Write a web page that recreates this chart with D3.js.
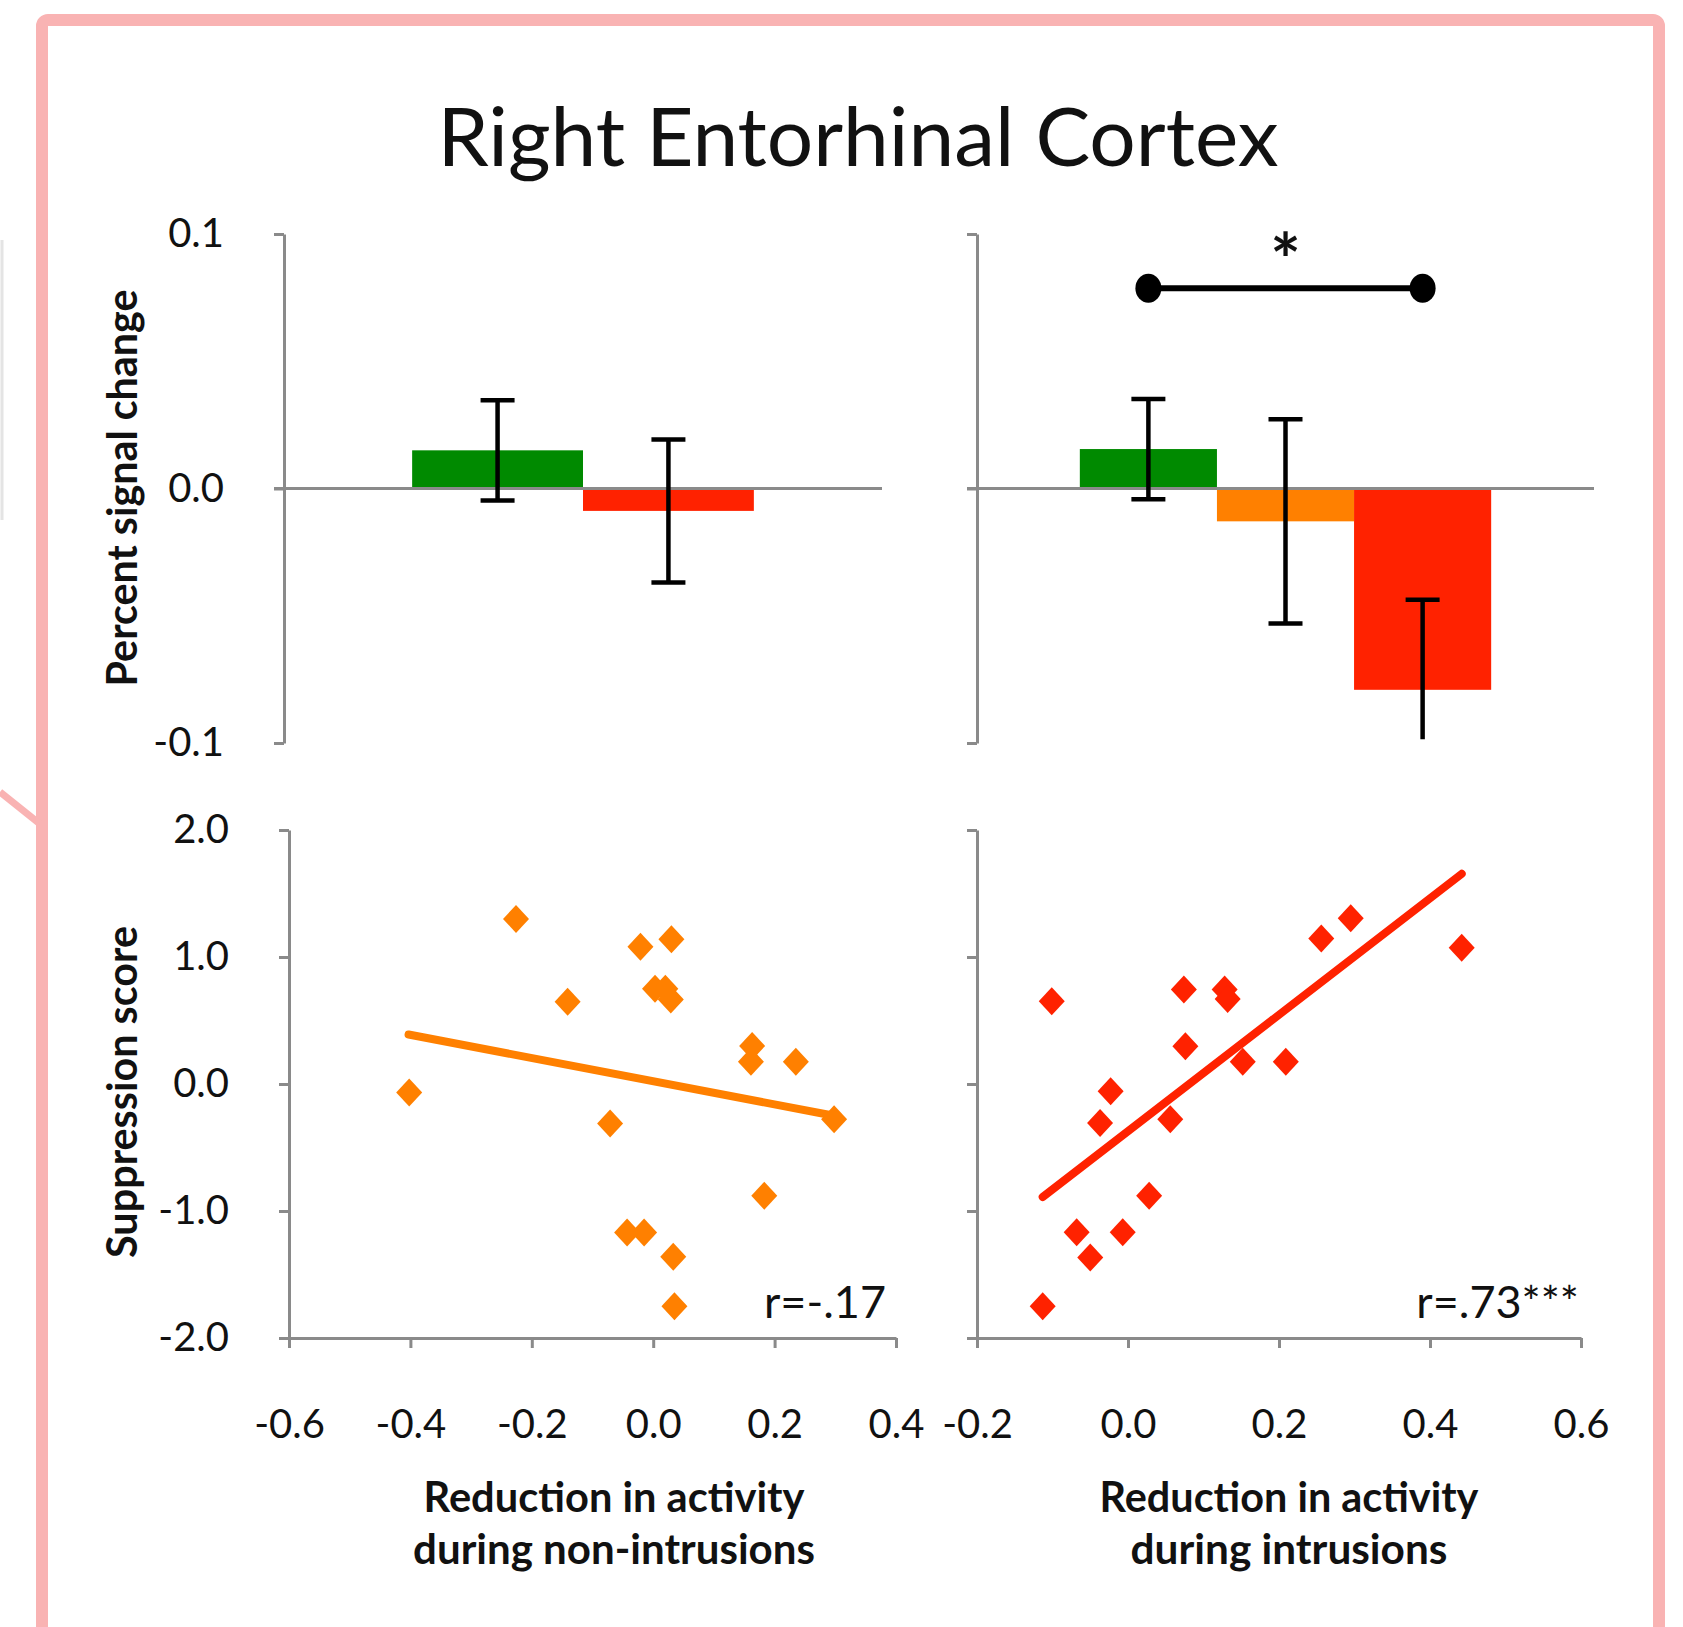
<!DOCTYPE html>
<html>
<head>
<meta charset="utf-8">
<script src="https://cdn.jsdelivr.net/npm/d3@7"></script>
<style>
  html, body { margin: 0; padding: 0; background: #fff; }
  svg { display: block; }
  text { font-family: Lato, "Open Sans", sans-serif; fill: #111; }
</style>
</head>
<body>
<svg id="chart" width="1683" height="1627"></svg>
<script>
// ---------------- DATA ----------------
const chartTitle = "Right Entorhinal Cortex";

// Top-left bar chart (non-intrusion analysis)
const leftBarCategories = ["Think", "No-Think"];
const leftBarMeans = [0.0150, -0.0088];
const leftBarErrors = [0.0197, 0.0281];
const leftBarColors = ["#008A00", "#FF2200"];

// Top-right bar chart (intrusion analysis)
const rightBarCategories = ["Think", "Non-intrusions", "Intrusions"];
const rightBarMeans = [0.0155, -0.0129, -0.0791];
const rightBarErrors = [0.0197, 0.0401, 0.0354];
const rightBarColors = ["#008A00", "#FF8000", "#FF2200"];

const barYTicks = [-0.1, 0.0, 0.1];
const sigBracketValue = 0.0787;
const sigStarValue = 0.0957;
const sigLabel = "*";

// Bottom-left scatter (non-intrusions)
const leftScatterX = [-0.402, -0.226, -0.141, -0.071, -0.021, 0.030, 0.003, 0.020, 0.029, 0.163, 0.161, 0.235, 0.298, 0.183, -0.043, -0.015, 0.033, 0.035];
const leftScatterY = [-0.067, 1.30, 0.648, -0.312, 1.08, 1.14, 0.75, 0.75, 0.666, 0.30, 0.175, 0.175, -0.277, -0.88, -1.17, -1.17, -1.36, -1.75];
const leftTrendX = [-0.403, 0.298];
const leftTrendY = [0.39, -0.25];
const leftR = "r=-.17";

// Bottom-right scatter (intrusions)
const rightScatterX = [-0.101, -0.113, -0.068, -0.050, -0.037, -0.023, -0.007, 0.028, 0.056, 0.074, 0.076, 0.128, 0.132, 0.152, 0.209, 0.256, 0.295, 0.442];
const rightScatterY = [0.651, -1.75, -1.168, -1.366, -0.307, -0.058, -1.168, -0.88, -0.277, 0.745, 0.298, 0.745, 0.67, 0.175, 0.175, 1.145, 1.305, 1.072];
const rightTrendX = [-0.113, 0.442];
const rightTrendY = [-0.89, 1.655];
const rightR = "r=.73***";

const scatterYTicks = [-2, -1, 0, 1, 2];
const leftXTicks = [-0.6, -0.4, -0.2, 0.0, 0.2, 0.4];
const rightXTicks = [-0.2, 0.0, 0.2, 0.4, 0.6];

const yTitleTop = "Percent signal change";
const yTitleBottom = "Suppression score";
const xTitleLeft = ["Reduction in activity", "during non-intrusions"];
const xTitleRight = ["Reduction in activity", "during intrusions"];

// ---------------- DRAWING ----------------
const svg = d3.select("#chart");
const AXIS = "#8a8a8a";
const fmt = d3.formatLocale({decimal: ".", thousands: ",", grouping: [3], currency: ["", ""], minus: "-"}).format(".1f");

// frame
svg.append("rect").attr("x", 42).attr("y", 20).attr("width", 1617).attr("height", 1700)
  .attr("rx", 6).attr("fill", "none").attr("stroke", "#F9B3B3").attr("stroke-width", 12);
svg.append("line").attr("x1", 0).attr("y1", 792).attr("x2", 40).attr("y2", 824)
  .attr("stroke", "#F9B3B3").attr("stroke-width", 7);
svg.append("line").attr("x1", 2).attr("y1", 240).attr("x2", 2).attr("y2", 520)
  .attr("stroke", "#e4e4e4").attr("stroke-width", 3);

function fit(sel, target) {
  const w = sel.node().getComputedTextLength();
  const fs = parseFloat(sel.attr("font-size"));
  sel.attr("font-size", fs * target / w);
  return fs * target / w;
}

// title
const title = svg.append("text").attr("x", 858).attr("y", 166).attr("text-anchor", "middle")
  .attr("font-size", 80).text(chartTitle);
fit(title, 841);

function styleAxis(g, labelSize) {
  g.select(".domain").attr("stroke", AXIS).attr("stroke-width", 3);
  g.selectAll(".tick line").attr("stroke", AXIS).attr("stroke-width", 3);
  g.selectAll(".tick text").attr("font-size", labelSize).attr("fill", "#111")
    .style("font-family", "Lato, sans-serif");
}

const TICK_FS = 40;

function barChart(cats, means, errs, colors, xRange, showLabels) {
  const x = d3.scaleBand().domain(cats).range(xRange).paddingInner(0).paddingOuter(0.75);
  const y = d3.scaleLinear().domain([barYTicks[0], barYTicks[barYTicks.length - 1]]).range([743, 234]);
  const g = svg.append("g");
  const ax = g.append("g").attr("transform", `translate(${xRange[0]},0)`)
    .call(d3.axisLeft(y).tickValues(barYTicks).tickSize(10).tickSizeOuter(0).tickPadding(50)
      .tickFormat(showLabels ? fmt : ""));
  styleAxis(ax, TICK_FS);
  g.selectAll("rect.bar").data(cats).enter().append("rect")
    .attr("x", d => x(d)).attr("width", x.bandwidth())
    .attr("y", (d, i) => y(Math.max(0, means[i])))
    .attr("height", (d, i) => Math.abs(y(means[i]) - y(0)))
    .attr("fill", (d, i) => colors[i]);
  // zero line
  g.append("line").attr("x1", xRange[0] - 10).attr("x2", xRange[1]).attr("y1", y(0)).attr("y2", y(0))
    .attr("stroke", AXIS).attr("stroke-width", 3);
  // error bars
  const lo = y.domain()[0];
  cats.forEach((c, i) => {
    const cx = x(c) + x.bandwidth() / 2;
    const top = means[i] + errs[i];
    const bot = means[i] - errs[i];
    const botC = Math.max(bot, lo + 0.0015);
    g.append("line").attr("x1", cx).attr("x2", cx).attr("y1", y(top)).attr("y2", y(botC))
      .attr("stroke", "#000").attr("stroke-width", 4.5);
    g.append("line").attr("x1", cx - 17).attr("x2", cx + 17).attr("y1", y(top)).attr("y2", y(top))
      .attr("stroke", "#000").attr("stroke-width", 4.5);
    if (bot >= lo) {
      g.append("line").attr("x1", cx - 17).attr("x2", cx + 17).attr("y1", y(bot)).attr("y2", y(bot))
        .attr("stroke", "#000").attr("stroke-width", 4.5);
    }
  });
  return {x, y, g};
}

barChart(leftBarCategories, leftBarMeans, leftBarErrors, leftBarColors, [284, 882], true);
const rb = barChart(rightBarCategories, rightBarMeans, rightBarErrors, rightBarColors, [977, 1594], false);

// significance bracket
{
  const c0 = rb.x(rightBarCategories[0]) + rb.x.bandwidth() / 2;
  const c2 = rb.x(rightBarCategories[2]) + rb.x.bandwidth() / 2;
  const c1 = rb.x(rightBarCategories[1]) + rb.x.bandwidth() / 2;
  const yb = rb.y(sigBracketValue);
  rb.g.append("line").attr("x1", c0).attr("x2", c2).attr("y1", yb).attr("y2", yb)
    .attr("stroke", "#000").attr("stroke-width", 6);
  [c0, c2].forEach(cx => rb.g.append("ellipse").attr("cx", cx).attr("cy", yb).attr("rx", 13).attr("ry", 14.5).attr("fill", "#000"));
  rb.g.append("text").attr("x", c1).attr("y", rb.y(sigStarValue) + 42).attr("text-anchor", "middle")
    .attr("font-size", 72).attr("font-weight", "bold").text(sigLabel);
}

function scatter(xs, ys, tx, ty, color, xTicks, xRange, showYLabels, rText, rRight) {
  const x = d3.scaleLinear().domain([xTicks[0], xTicks[xTicks.length - 1]]).range(xRange);
  const y = d3.scaleLinear().domain([scatterYTicks[0], scatterYTicks[scatterYTicks.length - 1]]).range([1338, 830]);
  const g = svg.append("g");
  const ay = g.append("g").attr("transform", `translate(${xRange[0]},0)`)
    .call(d3.axisLeft(y).tickValues(scatterYTicks).tickSize(10).tickSizeOuter(0).tickPadding(50)
      .tickFormat(showYLabels ? fmt : ""));
  styleAxis(ay, TICK_FS);
  const axx = g.append("g").attr("transform", `translate(0,${y.range()[0]})`)
    .call(d3.axisBottom(x).tickValues(xTicks).tickSize(10).tickSizeOuter(0).tickPadding(62).tickFormat(fmt));
  styleAxis(axx, TICK_FS);
  // trend line
  g.append("line").attr("x1", x(tx[0])).attr("y1", y(ty[0])).attr("x2", x(tx[1])).attr("y2", y(ty[1]))
    .attr("stroke", color).attr("stroke-width", 8).attr("stroke-linecap", "round");
  // diamonds
  g.selectAll("path.pt").data(xs).enter().append("path")
    .attr("d", (d, i) => {
      const cx = x(d), cy = y(ys[i]);
      return `M${cx},${cy - 14}L${cx + 13},${cy}L${cx},${cy + 14}L${cx - 13},${cy}Z`;
    })
    .attr("fill", color);
  g.append("text").attr("x", rRight).attr("y", 1318).attr("text-anchor", "end")
    .attr("font-size", 45).text(rText);
  return {x, y};
}

scatter(leftScatterX, leftScatterY, leftTrendX, leftTrendY, "#FF8000", leftXTicks, [289, 896], true, leftR, 886);
scatter(rightScatterX, rightScatterY, rightTrendX, rightTrendY, "#FF2200", rightXTicks, [977, 1581], false, rightR, 1579);

// axis titles
const yt1 = svg.append("text").attr("transform", "translate(137,488) rotate(-90)").attr("text-anchor", "middle")
  .attr("font-weight", "bold").attr("font-size", 38).text(yTitleTop);
fit(yt1, 397);
const yt2 = svg.append("text").attr("transform", "translate(137,1092) rotate(-90)").attr("text-anchor", "middle")
  .attr("font-weight", "bold").attr("font-size", 38).text(yTitleBottom);
fit(yt2, 332);

function xTitle(lines, cx, widths) {
  lines.forEach((t, i) => {
    const s = svg.append("text").attr("x", cx).attr("y", [1512, 1564][i]).attr("text-anchor", "middle")
      .attr("font-weight", "bold").attr("font-size", 36).text(t);
    fit(s, widths[i]);
  });
}
xTitle(xTitleLeft, 614, [381, 402]);
xTitle(xTitleRight, 1289, [379, 317]);
</script>
</body>
</html>
